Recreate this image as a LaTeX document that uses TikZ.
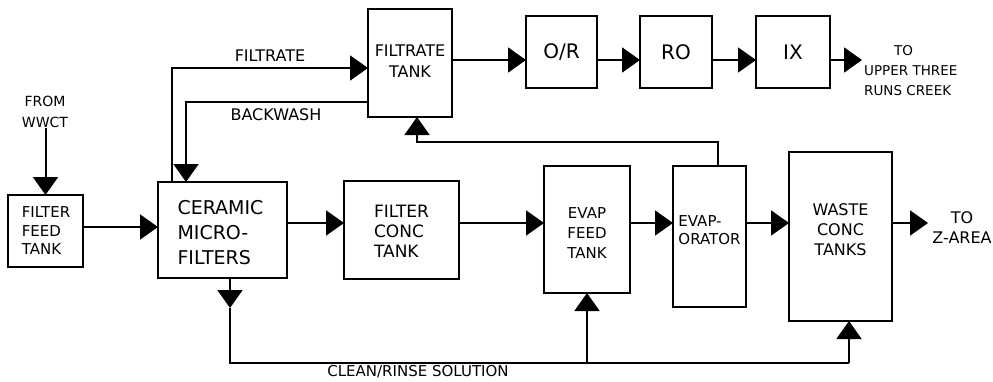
\documentclass[tikz,border=0pt]{standalone}
\usepackage{fontspec}
\setmainfont{DejaVu Sans}
\usetikzlibrary{arrows.meta}
\newcommand{\fs}[2]{\fontsize{#1}{#2}\selectfont}
\begin{document}
\begin{tikzpicture}[x=1pt,y=-1pt,
  box/.style={draw,line width=2.2pt,inner sep=0pt,outer sep=0pt},
  txt/.style={inner sep=0pt,align=center},
  txtl/.style={inner sep=0pt,align=left},
  line/.style={line width=2pt},
  arr/.style={line width=2pt,-{Triangle[length=18pt,width=25pt]}}]
\fill[white] (0,0) rectangle (993,381);
\useasboundingbox (0,0) rectangle (993,381);
% boxes
\node[box,minimum width=75pt,minimum height=72pt] (ff) at (45.5,231) {};
\node[box,minimum width=129pt,minimum height=96pt] (cmf) at (222.5,230) {};
\node[box,minimum width=115pt,minimum height=98pt] (fct) at (401.5,230) {};
\node[box,minimum width=84pt,minimum height=108pt] (ft) at (410,63) {};
\node[box,minimum width=71pt,minimum height=72pt,font=\fs{20}{24}] (or) at (561.5,52) {O/R};
\node[box,minimum width=72pt,minimum height=72pt,font=\fs{20}{24}] (ro) at (676,52) {RO};
\node[box,minimum width=74pt,minimum height=72pt,font=\fs{20}{24}] (ix) at (793,52) {IX};
\node[box,minimum width=86pt,minimum height=127pt] (eft) at (587,229.5) {};
\node[box,minimum width=73pt,minimum height=141pt] (evap) at (709.5,236.5) {};
\node[box,minimum width=103pt,minimum height=169pt] (wct) at (840.5,236.5) {};
% box texts
\node[txtl,font=\fs{15}{18.5}] (fft) at (46,231) {FILTER\\FEED\\TANK};
\node[txtl,font=\fs{19}{25}] (cmft) at (220.5,232.5) {CERAMIC\\MICRO-\\FILTERS};
\node[txtl,font=\fs{17}{20}] (fctt) at (401.5,231) {FILTER\\CONC\\TANK};
\node[txt,font=\fs{16}{21}] (ftt) at (410,61) {FILTRATE\\TANK};
\node[txt,font=\fs{15}{20}] (eftt) at (587,233) {EVAP\\FEED\\TANK};
\node[txtl,font=\fs{15}{18}] (evapt) at (709.5,230) {EVAP-\\ORATOR};
\node[txt,font=\fs{16}{20}] (wctt) at (840.5,230) {WASTE\\CONC\\TANKS};
% free labels
\node[txt,font=\fs{14}{21}] (wwct) at (45,112) {FROM\\WWCT};
\node[txt,font=\fs{16}{20}] (filtl) at (270,56) {FILTRATE};
\node[txt,font=\fs{16}{20}] (bwl) at (276,115) {BACKWASH};
\node[txt,font=\fs{15}{20}] (crl) at (418,372) {CLEAN/RINSE SOLUTION};
\node[txtl,font=\fs{13.5}{20},anchor=west] (creek) at (864,71) {\hspace*{30pt}TO\\UPPER THREE\\RUNS CREEK};
\node[txt,font=\fs{16}{20}] (zarea) at (962,228) {TO\\Z-AREA};
% coordinates
\coordinate (feedrow) at (0,227);
\coordinate (mainrow) at (0,223);
\coordinate (toprow) at (0,60);
\coordinate (creekend) at (862,60);
\coordinate (zend) at (928,223);
\coordinate (fl) at (172,68);
\coordinate (bw) at (186,102);
\coordinate (vr) at (718,142);
\coordinate (vl) at (417,142);
\coordinate (crtip) at (230,308);
\coordinate (cr) at (230,363);
\coordinate (crm) at (587,363);
\coordinate (cre) at (849,363);
% connectors
\draw[arr] (wwct.south -| ff.north) -- (ff.north);
\draw[arr] (ff.east |- feedrow) -- (cmf.west |- feedrow);
\draw[arr] (cmf.east |- mainrow) -- (fct.west |- mainrow);
\draw[arr] (fct.east |- mainrow) -- (eft.west |- mainrow);
\draw[arr] (eft.east |- mainrow) -- (evap.west |- mainrow);
\draw[arr] (evap.east |- mainrow) -- (wct.west |- mainrow);
\draw[arr] (wct.east |- mainrow) -- (zend);
\draw[arr] (ft.east |- toprow) -- (or.west |- toprow);
\draw[arr] (or.east |- toprow) -- (ro.west |- toprow);
\draw[arr] (ro.east |- toprow) -- (ix.west |- toprow);
\draw[arr] (ix.east |- toprow) -- (creekend);
\draw[arr] (fl |- cmf.north) -- (fl) -- (fl -| ft.west);
\draw[arr] (bw -| ft.west) -- (bw) -- (bw |- cmf.north);
\draw[arr] (vr |- evap.north) -- (vr) -- (vl) -- (vl |- ft.south);
\draw[arr] (crtip |- cmf.south) -- (crtip);
\draw[line] (crtip) -- (cr) -- (cre);
\draw[arr] (cre) -- (cre |- wct.south);
\draw[arr] (crm) -- (crm |- eft.south);
\end{tikzpicture}
\end{document}
